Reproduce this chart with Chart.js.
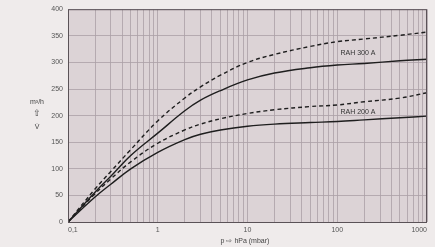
<!DOCTYPE html>
<html>
<head>
<meta charset="utf-8">
<script src="https://cdn.jsdelivr.net/npm/chart.js@4/dist/chart.umd.min.js"></script>
<style>
  html, body { margin: 0; padding: 0; background: #efebeb; }
  #wrap { width: 435px; height: 247px; }
</style>
</head>
<body>
<div id="wrap"><canvas id="curve_canvas"></canvas></div>
<script>
// pressure in hPa (mbar), log scale
var pressure = [0.1, 0.2, 0.3, 0.5, 1, 2, 3, 5, 10, 20, 50, 100, 200, 500, 1000];
// flow m3/h
var rah300Max = [0, 62, 95, 136, 190, 233, 254, 276, 300, 315, 330, 339, 344, 351, 357];
var rah300 = [0, 56, 86, 125, 167, 209, 229, 247, 267, 280, 290, 295, 298, 303, 306];
var rah200Max = [0, 53, 81, 113, 148, 173, 184, 194, 204, 211, 217, 220, 226, 233, 243];
var rah200 = [0, 47, 71, 100, 131, 155, 165, 173, 180, 184, 187, 189, 192, 196, 199];
var xTickLabels = {0.1: '0,1', 1: '1', 10: '10', 100: '100', 1000: '1000'};
var yMin = 0, yMax = 400, yStep = 50;

function pts(ys) {
	return pressure.map(function(p, i) { return {x: p, y: ys[i]}; });
}

var lineStyle = {
	borderColor: '#1e1e1e',
	borderWidth: 1.4,
	pointRadius: 0,
	fill: false,
	tension: 0.4
};

var chartDecor = {
	id: 'chartDecor',
	beforeDraw: function(chart) {
		var c = chart.ctx, a = chart.chartArea;
		c.save();
		c.fillStyle = '#dcd3d6';
		c.fillRect(a.left, a.top, a.right - a.left, a.bottom - a.top);
		c.restore();
	},
	afterDatasetsDraw: function(chart) {
		var c = chart.ctx, a = chart.chartArea;
		var xs = chart.scales.x, ys = chart.scales.y;
		c.save();
		c.strokeStyle = '#5a5257';
		c.lineWidth = 1;
		c.strokeRect(a.left + 0.5, a.top + 0.5, a.right - a.left - 1, a.bottom - a.top);
		// curve names
		c.fillStyle = '#333';
		c.font = '7px "Liberation Sans", Arial, sans-serif';
		c.textAlign = 'center';
		c.textBaseline = 'middle';
		c.fillText('RAH 300 A', xs.getPixelForValue(170), ys.getPixelForValue(318));
		c.fillText('RAH 200 A', xs.getPixelForValue(170), ys.getPixelForValue(206));
		// axis titles
		c.fillStyle = '#444';
		c.fillText('p \u21E8 hPa (mbar)', 245, 241);
		c.fillText('m\u00B3/h', 37, 102);
		c.font = '9px "DejaVu Sans", sans-serif';
		c.fillText('\u21E7', 37, 114);
		c.font = '7px "Liberation Sans", Arial, sans-serif';
		c.fillText('V\u0307', 37, 127);
		c.restore();
	}
};

new Chart(document.getElementById('curve_canvas').getContext('2d'), {
	type: 'line',
	data: {
		datasets: [
			Object.assign({label: 'RAH 300 A max', data: pts(rah300Max), borderDash: [4, 3]}, lineStyle),
			Object.assign({label: 'RAH 300 A', data: pts(rah300)}, lineStyle),
			Object.assign({label: 'RAH 200 A max', data: pts(rah200Max), borderDash: [4, 3]}, lineStyle),
			Object.assign({label: 'RAH 200 A', data: pts(rah200)}, lineStyle)
		]
	},
	options: {
		responsive: true,
		maintainAspectRatio: false,
		animation: false,
		layout: { padding: { left: 0, right: 8, top: 8, bottom: 0 } },
		plugins: { legend: { display: false }, tooltip: { enabled: false } },
		scales: {
			x: {
				type: 'logarithmic',
				min: 0.1,
				max: 1000,
				afterBuildTicks: function(scale) {
					var t = [];
					for (var e = -1; e < 3; e++) {
						for (var m = 1; m < 10; m++) t.push({value: +(m * Math.pow(10, e)).toPrecision(3)});
					}
					t.push({value: 1000});
					scale.ticks = t;
				},
				afterFit: function(scale) { scale.height = 25; },
				grid: { color: '#ab9fa6', lineWidth: 0.8, drawTicks: false },
				border: { display: false },
				ticks: {
					autoSkip: false,
					maxRotation: 0,
					align: 'inner',
					padding: 4,
					color: '#555',
					font: { family: '"Liberation Sans", Arial, sans-serif', size: 7 },
					callback: function(v) { return xTickLabels[v] || ''; }
				}
			},
			y: {
				min: yMin,
				max: yMax,
				afterFit: function(scale) { scale.width = 68; },
				grid: { color: '#ab9fa6', lineWidth: 0.8, drawTicks: false },
				border: { display: false },
				ticks: {
					stepSize: yStep,
					padding: 5,
					color: '#555',
					font: { family: '"Liberation Sans", Arial, sans-serif', size: 7 }
				}
			}
		}
	},
	plugins: [chartDecor]
});
</script>
</body>
</html>
